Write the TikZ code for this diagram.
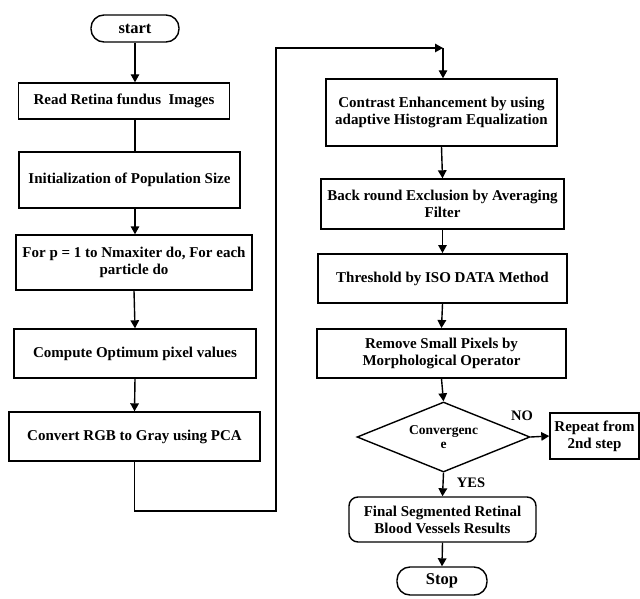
\documentclass[tikz,border=0pt]{standalone}
\usepackage{fontspec}
\setmainfont{Liberation Serif}
\usetikzlibrary{arrows.meta,shapes.geometric}
\begin{document}
\begin{tikzpicture}[x=1pt,y=-1pt,
  box/.style={draw, line width=1.4pt, align=center, inner sep=0pt, font=\fontsize{15}{17}\selectfont\bfseries},
  term/.style={box, rounded corners=13pt, font=\fontsize{16.5}{18}\selectfont\bfseries},
  arr/.style={line width=1.4pt, -{Triangle[length=8pt,width=8.5pt]}},
  ln/.style={line width=1.4pt},
  lbl/.style={font=\fontsize{14.5}{16}\selectfont\bfseries, inner sep=0pt}]
\useasboundingbox (0,0) rectangle (640,599);
% left column
\node[term, minimum width=88, minimum height=27] (start) at (135,28.5) {start};
\node[box, minimum width=211, minimum height=36] (read) at (124,101) {Read Retina fundus~~Images};
\node[box, minimum width=221, minimum height=56] (init) at (129.5,180) {Initialization of Population Size};
\node[box, minimum width=236, minimum height=55] (for) at (134,262.5) {For p = 1 to Nmaxiter do, For each\\particle do};
\node[box, minimum width=242, minimum height=49] (comp) at (135,353.5) {Compute Optimum pixel values};
\node[box, minimum width=251, minimum height=49] (conv) at (134.5,436.5) {Convert RGB to Gray using PCA};
% right column
\node[box, minimum width=231, minimum height=67] (contr) at (441.5,112.5) {Contrast Enhancement by using\\adaptive Histogram Equalization};
\node[box, minimum width=243, minimum height=50] (back) at (442.5,204) {Back round Exclusion by Averaging\\Filter};
\node[box, line width=1.9pt, minimum width=249, minimum height=49] (thr) at (442.5,278.5) {Threshold by ISO DATA Method};
\node[box, line width=1.9pt, minimum width=249, minimum height=49] (rem) at (441.5,353.5) {Remove Small Pixels by\\Morphological Operator};
\node[draw, line width=1.4pt, diamond, aspect=2.47, minimum width=173, minimum height=70, inner sep=0pt, align=center, font=\fontsize{13.5}{14.5}\selectfont\bfseries] (dec) at (443.5,437) {Convergenc\\e};
\node[box, minimum width=89, minimum height=46, font=\fontsize{15}{17}\selectfont\bfseries] (rep) at (594.5,436) {Repeat from\\2nd step};
\node[box, rounded corners=9pt, minimum width=187, minimum height=45] (fin) at (442.5,519.5) {Final Segmented Retinal\\Blood Vessels Results};
\node[term, minimum width=90, minimum height=28] (stop) at (442,581) {Stop};
\node[lbl] (no) at (522,416) {NO};
\node[lbl] (yes) at (471,483) {YES};
% connectors
\coordinate (b1) at (276,511);
\coordinate (t1) at (276,48);
\coordinate (t2) at (443,48);
\draw[arr] (start.south) -- (start.south |- read.north);
\draw[ln] (start.south |- read.south) -- (start.south |- init.north);
\draw[arr] (start.south |- init.south) -- (start.south |- for.north);
\draw[arr] (for.south) -- (comp.north);
\draw[arr] (comp.south) -- (conv.north);
\draw[arr] (conv.south) |- (b1) -- (t1) -- (t2);
\draw[arr] (t2) -- (t2 |- contr.north);
\draw[arr] (contr.south) -- (back.north);
\draw[arr] (back.south) -- (thr.north);
\draw[arr] (thr.south) -- (rem.north);
\draw[arr] (rem.south) -- (dec.north);
\draw[arr] (dec.east) -- (rep.west);
\draw[arr] (dec.south) -- (fin.north);
\draw[arr] (fin.south) -- (stop.north);
\end{tikzpicture}
\end{document}
